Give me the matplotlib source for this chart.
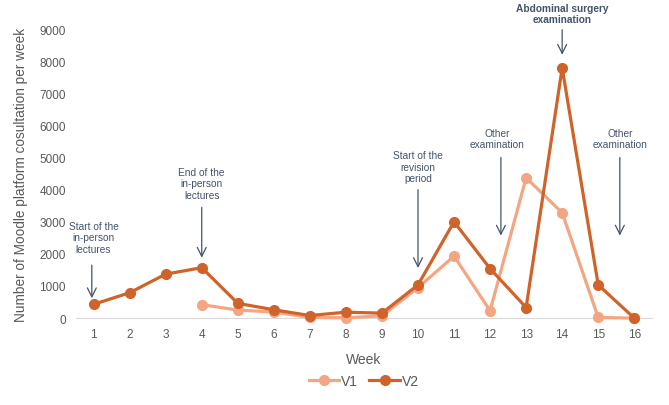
import matplotlib.pyplot as plt
import numpy as np

weeks = list(range(1, 17))
v1 = [np.nan, np.nan, np.nan, 420, 250, 190, 20, 10, 70, 950, 1930, 230, 4370, 3280, 20, 0]
v2 = [430, 790, 1370, 1570, 460, 260, 80, 185, 155, 1035, 3000, 1540, 330, 7790, 1035, 0]

# (text, text x, text y, arrow x, arrow tail y, arrow head y, bold)
notes = [
    ("Start of the\nin-person\nlectures", 1.0, 2520, 0.95, 1650, 620, False),
    ("End of the\nin-person\nlectures", 4.0, 4200, 4.0, 3450, 1880, False),
    ("Start of the\nrevision\nperiod", 10.0, 4720, 10.0, 4000, 1560, False),
    ("Other\nexamination", 12.2, 5590, 12.3, 5000, 2570, False),
    ("Abdominal surgery\nexamination", 14.0, 9480, 14.0, 8980, 8200, True),
    ("Other\nexamination", 15.6, 5590, 15.6, 5000, 2570, False),
]

c_v1 = '#F4A582'
c_v2 = '#D0632A'
c_note = '#44546A'
c_tick = '#595959'

plt.rcParams['font.family'] = ['Liberation Sans', 'DejaVu Sans']

fig = plt.figure(figsize=(6.69, 4.06), dpi=100)
ax = fig.add_axes([0.113, 0.214, 0.862, 0.712])

ax.plot(weeks, v1, color=c_v1, lw=2.3, marker='o', ms=7, label='V1', clip_on=False, zorder=3)
ax.plot(weeks, v2, color=c_v2, lw=2.3, marker='o', ms=7, label='V2', clip_on=False, zorder=4)

for txt, tx, ty, axx, y0, y1, bold in notes:
    ax.text(tx, ty, txt, ha='center', va='center', fontsize=7.3, color=c_note,
            fontweight='bold' if bold else 'normal', linespacing=1.2, clip_on=False)
    ax.annotate('', xy=(axx, y1), xytext=(axx, y0),
                arrowprops=dict(arrowstyle='->', color=c_note, lw=0.9,
                                mutation_scale=16, shrinkA=0, shrinkB=0),
                annotation_clip=False)

ax.set_xlim(0.5, 16.5)
ax.set_ylim(0, 9000)
ax.set_xticks(weeks)
ax.set_yticks(np.arange(0, 9001, 1000))
ax.tick_params(length=0, colors=c_tick, labelsize=8.5, pad=7)
for s in ['top', 'right', 'left']:
    ax.spines[s].set_visible(False)
ax.spines['bottom'].set_color('#D9D9D9')

ax.set_xlabel('Week', fontsize=10, color=c_tick, labelpad=9)
ax.set_ylabel('Number of Moodle platform cosultation per week', fontsize=9.8, color=c_tick, labelpad=8)

ax.legend(loc='upper center', bbox_to_anchor=(0.5, -0.15), ncol=2, frameon=False,
          fontsize=10, labelcolor=c_tick, handlelength=2.2, columnspacing=0.8, handletextpad=0.15)

plt.savefig('out.png', dpi=100)
